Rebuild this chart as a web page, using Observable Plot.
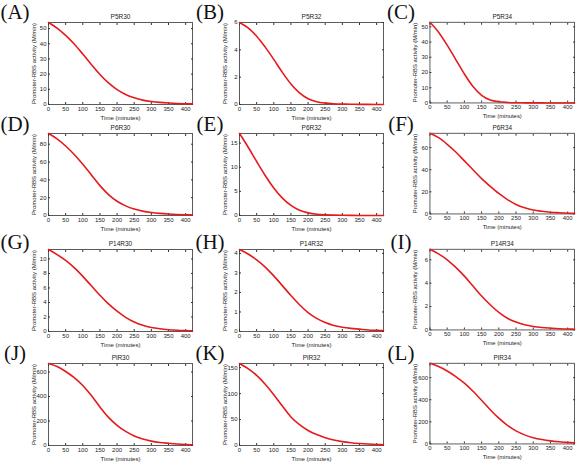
<!DOCTYPE html>
<html>
<head>
<meta charset="utf-8">
<script src="https://cdn.jsdelivr.net/npm/d3@7"></script>
<script src="https://cdn.jsdelivr.net/npm/@observablehq/plot@0.6"></script>
<style>
  body { margin: 0; background: #fff; }
  #fig { position: relative; width: 580px; height: 463px; overflow: hidden; }
  .panel { position: absolute; }
  .tag {
    position: absolute;
    font-family: "Liberation Serif", "Times New Roman", serif;
    font-size: 21px;
    line-height: 21px;
    color: #111;
    transform: translateX(-50%);
    white-space: nowrap;
  }
</style>
</head>
<body>
<div id="fig"></div>
<script>
// Sample times (minutes) shared by every panel
const time = [0, 25, 50, 75, 100, 125, 150, 175, 200, 225, 250, 275, 300, 325, 350, 375, 400, 420];
const xTicks = [0, 50, 100, 150, 200, 250, 300, 350, 400];

// Promoter-RBS activity (M/min) for each construct
const p5r30  = [54, 50.3, 45.5, 39.8, 33.2, 26.3, 19.8, 14.2, 9.8, 6.6, 4.4, 2.9, 2.0, 1.4, 1.0, 0.7, 0.5, 0.4];
const p5r32  = [6, 5.6, 5.0, 4.2, 3.3, 2.35, 1.5, 0.85, 0.42, 0.2, 0.1, 0.05, 0.03, 0.02, 0.01, 0.008, 0.005, 0.004];
const p5r34  = [53, 46.5, 38, 28.5, 19, 10.8, 5.0, 2.0, 0.8, 0.32, 0.13, 0.06, 0.03, 0.02, 0.01, 0.008, 0.005, 0.004];
const p6r30  = [92, 86, 78, 68.5, 57.5, 45.5, 33.5, 23.5, 16, 10.8, 7.2, 4.9, 3.4, 2.4, 1.7, 1.2, 0.8, 0.6];
const p6r32  = [17, 14.2, 11.2, 8.3, 5.7, 3.6, 2.1, 1.1, 0.55, 0.25, 0.12, 0.07, 0.04, 0.02, 0.01, 0.008, 0.005, 0.004];
const p6r34  = [73, 69, 63, 56, 48, 40, 32, 25, 18.5, 13, 8.5, 5.5, 3.5, 2.4, 1.6, 1.1, 0.7, 0.5];
const p14r30 = [11.3, 10.6, 9.8, 8.8, 7.6, 6.3, 5.0, 3.8, 2.8, 1.95, 1.3, 0.85, 0.55, 0.37, 0.25, 0.17, 0.12, 0.09];
const p14r32 = [4.2, 3.97, 3.67, 3.3, 2.85, 2.35, 1.84, 1.37, 0.97, 0.67, 0.46, 0.31, 0.22, 0.16, 0.12, 0.08, 0.06, 0.05];
const p14r34 = [6.9, 6.5, 6.0, 5.35, 4.6, 3.75, 2.9, 2.15, 1.5, 1.0, 0.67, 0.44, 0.3, 0.21, 0.15, 0.1, 0.08, 0.06];
const plr30  = [670, 645, 605, 555, 490, 408, 315, 230, 165, 115, 78, 53, 36, 25, 18, 12, 8, 6];
const plr32  = [158, 148, 135, 118, 98, 76, 55, 40, 29, 21, 15, 10.5, 7.5, 5.4, 3.9, 2.8, 2, 1.5];
const plr34  = [730, 700, 660, 610, 550, 477, 395, 310, 233, 168, 118, 82, 57, 40, 28, 20, 14, 11];

const series = [p5r30, p5r32, p5r34, p6r30, p6r32, p6r34, p14r30, p14r32, p14r34, plr30, plr32, plr34];
const titles = ["P5R30", "P5R32", "P5R34", "P6R30", "P6R32", "P6R34", "P14R30", "P14R32", "P14R34", "PlR30", "PlR32", "PlR34"];
const tags = ["(A)", "(B)", "(C)", "(D)", "(E)", "(F)", "(G)", "(H)", "(I)", "(J)", "(K)", "(L)"];
const yTicks = [
  [0, 10, 20, 30, 40, 50], [0, 2, 4, 6], [0, 10, 20, 30, 40, 50],
  [0, 20, 40, 60, 80], [0, 5, 10, 15], [0, 20, 40, 60],
  [0, 2, 4, 6, 8, 10], [0, 1, 2, 3, 4], [0, 2, 4, 6],
  [0, 200, 400, 600], [0, 50, 100, 150], [0, 200, 400, 600]
];

// Grid layout of the twelve panels (frame positions in the page)
const colLeft = [48, 239, 430];
const colWidth = [144, 144, 147];
const rowTop = [22, 133, 249, 363];
const frameH = 82;
const tagX = [15, 210, 401];
const tagBaseline = [19, 131, 249, 360];
const M = {left: 34, right: 6, top: 14, bottom: 22};

const fig = document.getElementById("fig");
const font = "'Liberation Sans', Arial, sans-serif";
const plain = d => String(d);

series.forEach((values, i) => {
  const col = i % 3, row = Math.floor(i / 3);
  const fw = colWidth[col];
  const tickStyle = {tickSize: -2, tickPadding: 4, fontSize: 6, stroke: "#333", tickFormat: plain};
  const chart = Plot.plot({
    width: M.left + fw + M.right,
    height: M.top + frameH + M.bottom,
    marginLeft: M.left, marginRight: M.right, marginTop: M.top, marginBottom: M.bottom,
    style: {fontFamily: font, fontSize: "6px", color: "#222", background: "transparent", overflow: "visible"},
    x: {domain: [0, 420]},
    y: {domain: [0, d3.max(values)]},
    marks: [
      Plot.frame({stroke: "#333", strokeWidth: 0.8}),
      Plot.axisX({anchor: "bottom", ticks: xTicks, ...tickStyle,
        label: "Time (minutes)", labelAnchor: "center", labelOffset: 15, labelArrow: "none"}),
      Plot.axisX({anchor: "top", ticks: xTicks, tickSize: -2, tickFormat: () => "", label: null, stroke: "#333"}),
      Plot.axisY({anchor: "left", ticks: yTicks[i], ...tickStyle,
        label: "Promoter-RBS activity (M/min)", labelAnchor: "center", labelOffset: 17, labelArrow: "none"}),
      Plot.axisY({anchor: "right", ticks: yTicks[i], tickSize: -2, tickFormat: () => "", label: null, stroke: "#333"}),
      Plot.lineY(values, {x: (d, j) => time[j], y: d => d, stroke: "#e41a1c", strokeWidth: 1.6, curve: "monotone-x"}),
      Plot.text([titles[i]], {frameAnchor: "top", dy: -8, fontSize: 6.5, fill: "#222"})
    ]
  });
  const holder = document.createElement("div");
  holder.className = "panel";
  holder.style.left = (colLeft[col] - M.left) + "px";
  holder.style.top = (rowTop[row] - M.top) + "px";
  holder.appendChild(chart);
  fig.appendChild(holder);

  const tag = document.createElement("div");
  tag.className = "tag";
  tag.textContent = tags[i];
  tag.style.left = tagX[col] + "px";
  tag.style.top = (tagBaseline[row] - 17.5) + "px";
  fig.appendChild(tag);
});
</script>
</body>
</html>
